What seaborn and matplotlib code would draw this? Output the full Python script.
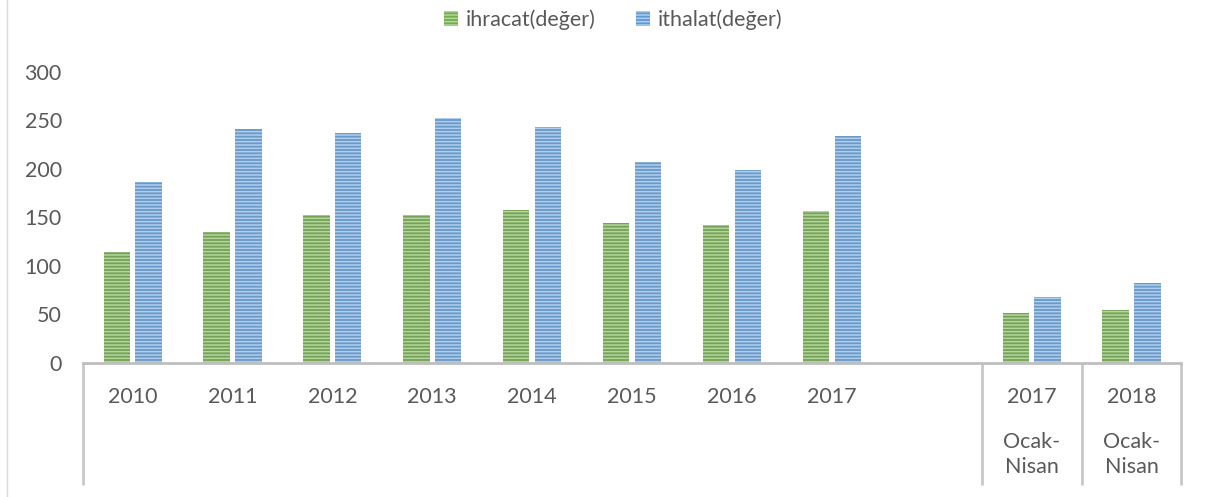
import numpy as np
import pandas as pd
import matplotlib
matplotlib.use("Agg")
import matplotlib.pyplot as plt
import matplotlib.patches as mpatches
import matplotlib.transforms as mtransforms
from matplotlib.lines import Line2D
import seaborn as sns

# data
period_keys = ['2010', '2011', '2012', '2013', '2014', '2015', '2016', '2017',
               'bos', '2017 Ocak-Nisan', '2018 Ocak-Nisan']
year_labels = ['2010', '2011', '2012', '2013', '2014', '2015', '2016', '2017',
               '', '2017', '2018']
sub_labels = ['', '', '', '', '', '', '', '', '', 'Ocak-\nNisan', 'Ocak-\nNisan']
ihracat = [114, 135, 152, 152, 158, 144, 142, 157, np.nan, 51, 55]
ithalat = [186, 241, 237, 252, 243, 207, 199, 234, np.nan, 68, 82]
series = ['ihracat(değer)', 'ithalat(değer)']

df = pd.DataFrame({
    'period': period_keys * 2,
    'seri': [series[0]] * len(period_keys) + [series[1]] * len(period_keys),
    'deger': ihracat + ithalat,
}).dropna()

sns.set_style("white")
plt.rcParams['font.family'] = ['Lato', 'DejaVu Sans']
plt.rcParams['hatch.linewidth'] = 1.1

text_col = '#595959'
fs = 15.5
face = {series[0]: '#72ad4b', series[1]: '#5b9bd5'}
stripe = {series[0]: '#b3d69c', series[1]: '#b0cdef'}

fig = plt.figure(figsize=(12.07, 4.97), dpi=100)
ax = fig.add_axes([0.0685, 0.2696, 0.9103, 0.5861])

sns.barplot(data=df, x='period', y='deger', hue='seri', order=period_keys,
            hue_order=series, palette=face, width=0.636, gap=0.17,
            legend=False, ax=ax)

for cont, s in zip(ax.containers, series):
    for bar in cont:
        bar.set_edgecolor(stripe[s])
        bar.set_hatch('-----')
        bar.set_linewidth(0)

ax.set_xlim(-0.5, len(period_keys) - 0.5)
ax.set_ylim(0, 300)
ax.set_yticks(range(0, 301, 50))
ax.set_xlabel('')
ax.set_ylabel('')
ax.set_xticks(range(len(period_keys)))
ax.set_xticklabels(year_labels)
ax.tick_params(axis='both', length=0, labelsize=fs, labelcolor=text_col)
ax.tick_params(axis='y', pad=15)
ax.tick_params(axis='x', pad=17)

for side in ['left', 'right', 'top']:
    ax.spines[side].set_visible(False)
ax.spines['bottom'].set_color('#bfbfbf')
ax.spines['bottom'].set_linewidth(2)

# multi-level category separators
trans = mtransforms.blended_transform_factory(ax.transData, ax.transAxes)
for xb in [-0.5, 8.5, 9.5, 10.5]:
    ax.plot([xb, xb], [0, -0.42], transform=trans, color='#c8c8c8',
            lw=2, clip_on=False, solid_capstyle='butt')

for i, lab in enumerate(sub_labels):
    if lab:
        ax.text(i, -0.314, lab, transform=trans, ha='center', va='center',
                fontsize=fs, color=text_col, linespacing=1.3)

handles = [mpatches.Patch(facecolor=face[s], edgecolor=stripe[s], hatch='-----',
                          linewidth=0, label=s) for s in series]
fig.legend(handles=handles, loc='center', bbox_to_anchor=(0.508, 0.96),
           ncol=2, frameon=False, fontsize=fs, labelcolor=text_col,
           handlelength=0.65, handleheight=0.65, handletextpad=0.35,
           columnspacing=1.9)

fig.add_artist(Line2D([0.006, 0.006], [0, 1], transform=fig.transFigure,
                      color='#d9d9d9', lw=1))

fig.savefig('out.png', dpi=100)
